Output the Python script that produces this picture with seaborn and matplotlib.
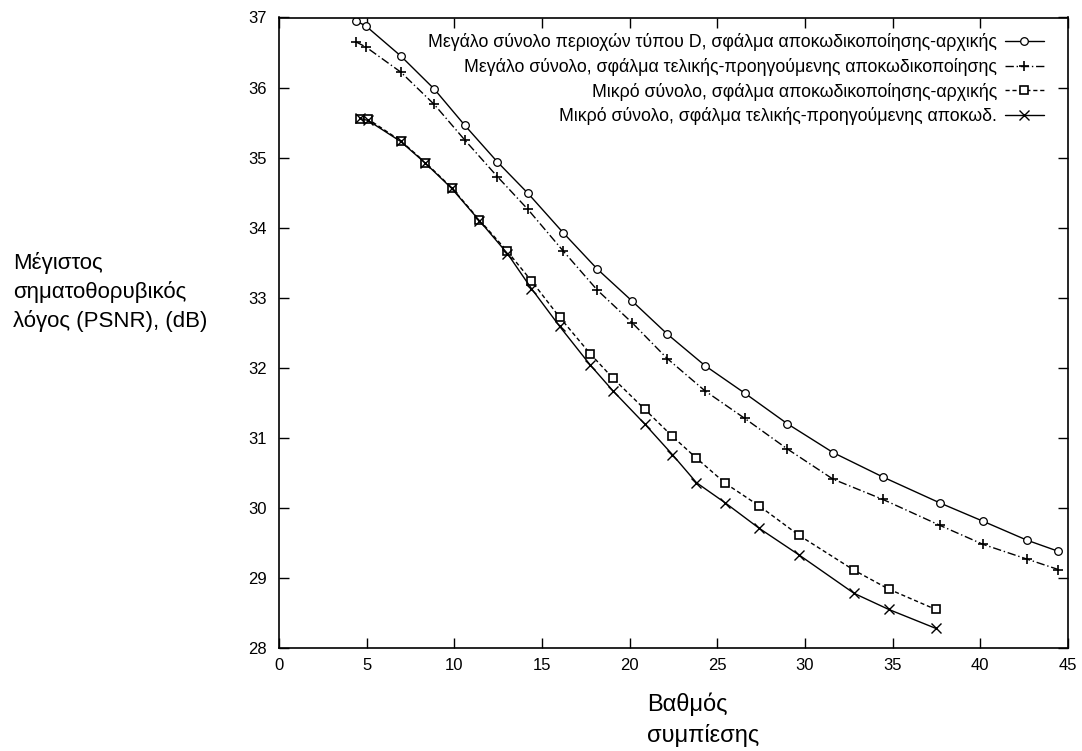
import numpy as np
import pandas as pd
import matplotlib
matplotlib.use("Agg")
import matplotlib.pyplot as plt
import seaborn as sns

# ---- data ----
x_large = [4.4, 4.95, 6.95, 8.85, 10.6, 12.45, 14.2, 16.2, 18.15, 20.15,
           22.15, 24.3, 26.55, 29.0, 31.6, 34.45, 37.7, 40.15, 42.65, 44.45]
psnr_large_orig = [36.95, 36.88, 36.45, 35.98, 35.46, 34.94, 34.49, 33.93, 33.41, 32.95,
                   32.48, 32.03, 31.64, 31.20, 30.79, 30.44, 30.07, 29.81, 29.54, 29.38]
psnr_large_prev = [36.65, 36.58, 36.22, 35.76, 35.25, 34.73, 34.26, 33.67, 33.11, 32.64,
                   32.13, 31.67, 31.28, 30.84, 30.41, 30.12, 29.75, 29.48, 29.27, 29.12]

x_small = [4.6, 5.08, 6.94, 8.35, 9.85, 11.43, 13.03, 14.4, 16.01, 17.75,
           19.05, 20.85, 22.44, 23.81, 25.46, 27.38, 29.65, 32.8, 34.78, 37.46]
psnr_small_orig = [35.55, 35.55, 35.24, 34.93, 34.57, 34.11, 33.66, 33.24, 32.72, 32.20,
                   31.85, 31.41, 31.02, 30.71, 30.35, 30.03, 29.61, 29.11, 28.84, 28.55]
psnr_small_prev = [35.56, 35.53, 35.23, 34.92, 34.56, 34.10, 33.63, 33.13, 32.59, 32.04,
                   31.67, 31.20, 30.76, 30.36, 30.07, 29.71, 29.33, 28.78, 28.55, 28.28]

labels = [
    "Μεγάλο σύνολο περιοχών τύπου D, σφάλμα αποκωδικοποίησης-αρχικής",
    "Μεγάλο σύνολο, σφάλμα τελικής-προηγούμενης αποκωδικοποίησης",
    "Μικρό σύνολο, σφάλμα αποκωδικοποίησης-αρχικής",
    "Μικρό σύνολο, σφάλμα τελικής-προηγούμενης αποκωδ.",
]
x_ticks = [0, 5, 10, 15, 20, 25, 30, 35, 40, 45]
y_ticks = [28, 29, 30, 31, 32, 33, 34, 35, 36, 37]
y_label = "Μέγιστος\nσηματοθορυβικός\nλόγος (PSNR), (dB)"
x_label = "Βαθμός\nσυμπίεσης"

sns.set_theme(style="ticks")
plt.rcParams["font.family"] = ["Liberation Sans", "DejaVu Sans"]
plt.rcParams["text.color"] = "black"
plt.rcParams["axes.labelcolor"] = "black"
plt.rcParams["xtick.color"] = "black"
plt.rcParams["ytick.color"] = "black"

fig = plt.figure(figsize=(10.82, 7.51), dpi=100)
ax = fig.add_axes([279 / 1082, 1 - 648 / 751, (1068 - 279) / 1082, (648 - 17.5) / 751])

series = [
    (x_large, psnr_large_orig, dict(marker="o", ms=5.5, mfc="white", mec="black", mew=0.9,
                                    linestyle="-")),
    (x_large, psnr_large_prev, dict(marker="+", ms=7.5, mec="black", mew=1.2,
                                    linestyle=(0, (6, 2, 1, 2)))),
    (x_small, psnr_small_orig, dict(marker="s", ms=6, mfc="white", mec="black", mew=1.2,
                                    linestyle=(0, (3, 2)))),
    (x_small, psnr_small_prev, dict(marker="x", ms=6.5, mec="black", mew=1.0, linestyle="-")),
]
for (xs, ys, style), lab in zip(series, labels):
    df = pd.DataFrame({"x": xs, "y": ys})
    sns.lineplot(data=df, x="x", y="y", ax=ax, color="black", lw=1.0,
                 label=lab, sort=True, **style)

ax.set_xlim(0, 45)
ax.set_ylim(28, 37)
ax.set_xticks(x_ticks)
ax.set_yticks(y_ticks)
ax.set_xlabel("")
ax.set_ylabel("")
for s in ax.spines.values():
    s.set_visible(True)
    s.set_linewidth(1.2)
    s.set_color("black")
ax.tick_params(direction="in", length=7, width=1.0, top=True, right=True,
               labelsize=12, colors="black", pad=7)
ax.tick_params(axis="y", pad=9)

leg = ax.legend(loc="upper right", bbox_to_anchor=(1044 / 1082, 1 - 33 / 751),
                bbox_transform=fig.transFigure, frameon=False, markerfirst=False,
                fontsize=12.8, handlelength=2.2, handletextpad=0.45, labelspacing=0.38,
                borderpad=0, borderaxespad=0)
for t in leg.get_texts():
    t.set_color("black")

fig.text(13 / 1082, 1 - 292 / 751, y_label, ha="left", va="center", fontsize=16,
         linespacing=1.4)
fig.text(647 / 1082, 1 - 692 / 751, x_label, ha="left", va="top", fontsize=17,
         linespacing=1.45)

fig.savefig("out.png", dpi=100, facecolor="white")
